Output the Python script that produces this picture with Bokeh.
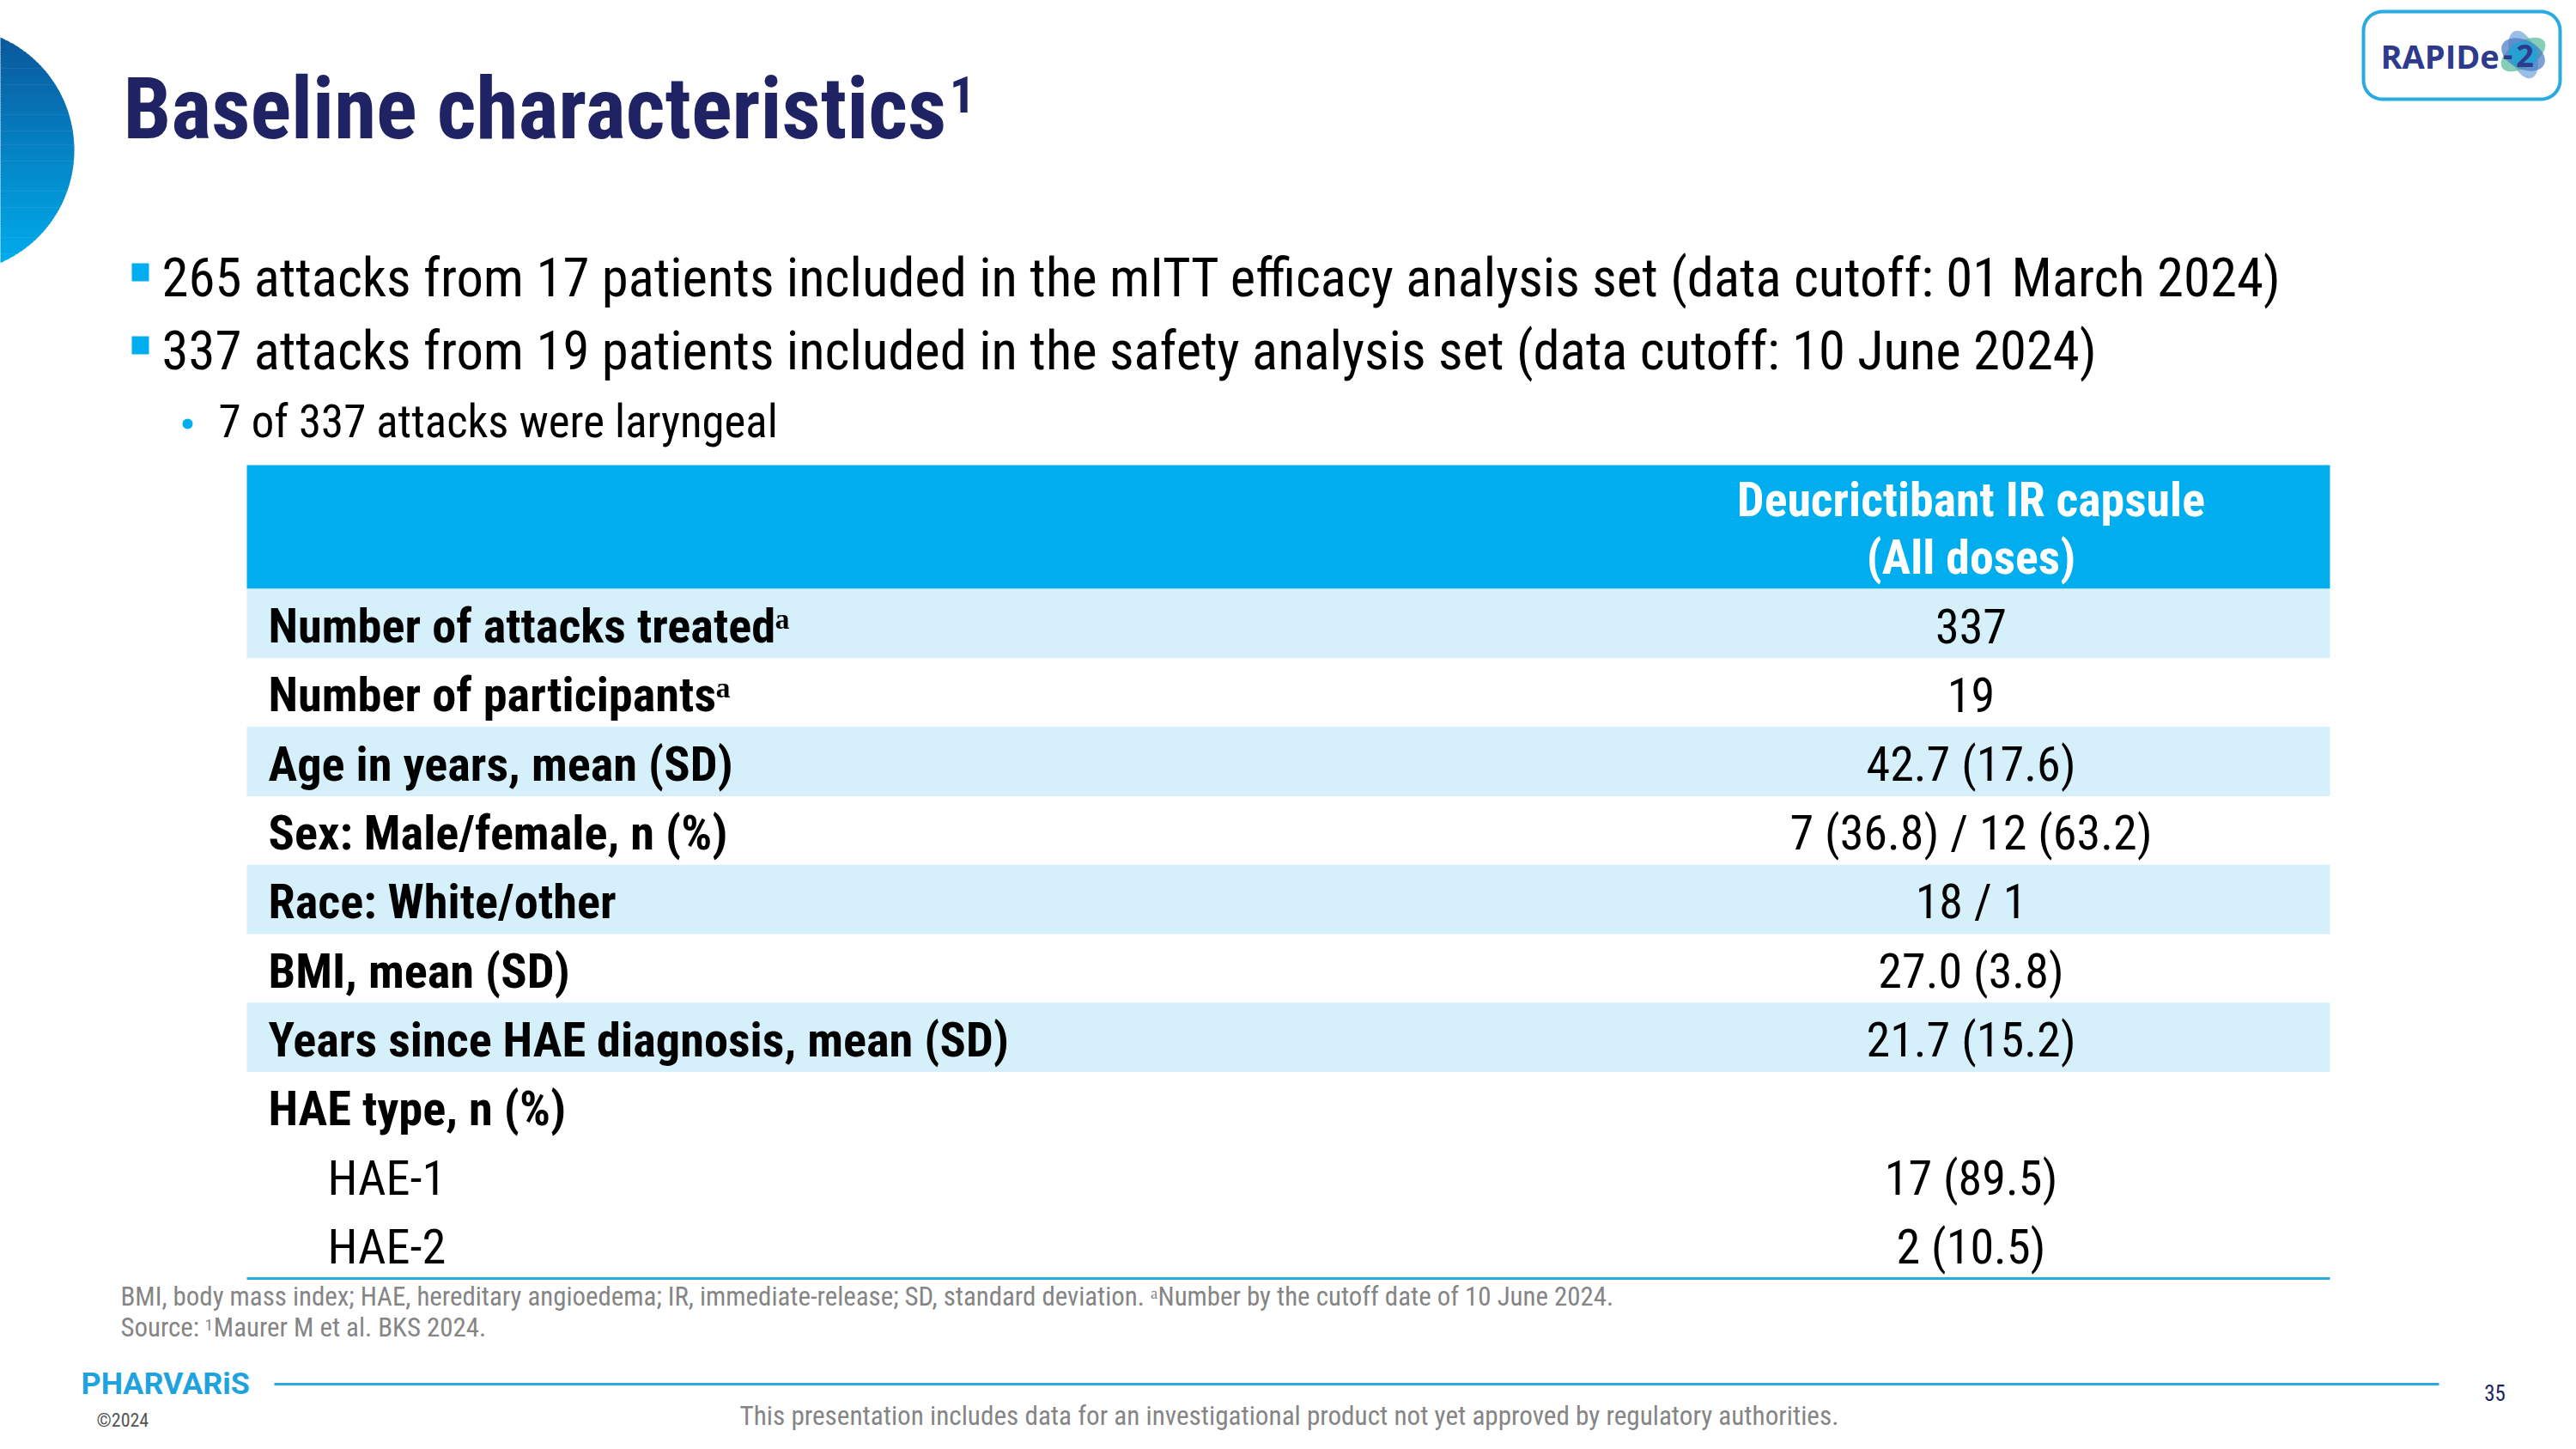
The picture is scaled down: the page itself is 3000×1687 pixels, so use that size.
import subprocess
from bokeh.plotting import figure
from bokeh.models import Range1d
from bokeh.core.properties import value
from bokeh.embed import file_html
from bokeh.resources import INLINE
import numpy as np

# ---------------- content ----------------
title_text = "Baseline characteristics"
title_ref = "1"
bullets = [
    "265 attacks from 17 patients included in the mITT efficacy analysis set (data cutoff: 01 March 2024)",
    "337 attacks from 19 patients included in the safety analysis set (data cutoff: 10 June 2024)",
]
sub_bullets = ["7 of 337 attacks were laryngeal"]
column_header = ["Deucrictibant IR capsule", "(All doses)"]
row_labels = [
    "Number of attacks treatedᵃ",
    "Number of participantsᵃ",
    "Age in years, mean (SD)",
    "Sex: Male/female, n (%)",
    "Race: White/other",
    "BMI, mean (SD)",
    "Years since HAE diagnosis, mean (SD)",
    "HAE type, n (%)",
    "HAE-1",
    "HAE-2",
]
row_values = ["337", "19", "42.7 (17.6)", "7 (36.8) / 12 (63.2)", "18 / 1",
              "27.0 (3.8)", "21.7 (15.2)", "", "17 (89.5)", "2 (10.5)"]
row_level = [0, 0, 0, 0, 0, 0, 0, 0, 1, 1]
row_shaded = [True, False, True, False, True, False, True, False, False, False]
footnote_1 = "BMI, body mass index; HAE, hereditary angioedema; IR, immediate-release; SD, standard deviation. ᵃNumber by the cutoff date of 10 June 2024."
footnote_2 = ["Source: ", "1", "Maurer M et al. BKS 2024."]
disclaimer = "This presentation includes data for an investigational product not yet approved by regulatory authorities."
page_number = "35"
copyright_text = "©2024"
company = "PHARVARiS"
study_logo = ["RAPIDe", "-", "2"]

# ---------------- font selection / measuring ----------------
def _families():
    try:
        out = subprocess.run(["fc-list", ":", "family"], capture_output=True, text=True, timeout=20).stdout
    except Exception:
        return set()
    fams = set()
    for line in out.splitlines():
        for f in line.split(","):
            fams.add(f.strip())
    return fams

FAMS = _families()
FONT = next((c for c in ["Roboto Condensed", "Liberation Sans Narrow", "DejaVu Sans Condensed",
                         "Noto Sans Condensed", "Open Sans Condensed", "Roboto"] if c in FAMS), "Roboto")

_file_cache = {}
def _font_file(fam, bold):
    key = (fam, bold)
    if key not in _file_cache:
        try:
            q = fam + (":weight=bold" if bold else ":weight=regular")
            _file_cache[key] = subprocess.run(["fc-match", "-f", "%{file}", q], capture_output=True,
                                              text=True, timeout=20).stdout.strip()
        except Exception:
            _file_cache[key] = ""
    return _file_cache[key]

def text_w(s, fam, bold, size):
    try:
        from PIL import ImageFont
        f = ImageFont.truetype(_font_file(fam, bold), int(round(size * 4)))
        return f.getlength(s) / 4.0
    except Exception:
        return len(s) * 0.45 * size

def fit(s, fam, bold, max_size, target_w):
    w = text_w(s, fam, bold, max_size)
    if w <= 0:
        return max_size
    return round(max_size * min(1.0, target_w / w), 1)

def px(v):
    return f"{min(v, 99.5):.1f}px"

# ---------------- styles ----------------
NAVY = "#1F2263"
CYAN = "#00AEEF"
LIGHT = "#D6F0FB"
LINE = "#29ABE2"
GRAY = "#858585"

s_title = 99.5
s_bullet = fit(bullets[0], FONT, False, 63, 2466)
s_sub = fit(sub_bullets[0], FONT, False, 54, 651)
s_head = fit(column_header[0], FONT, True, 54, 544) * 1.036
s_lab = fit(row_labels[6], FONT, True, 53, 859) * 1.065
s_val = fit(row_values[3], FONT, False, 53, 419) * 1.058
s_fn = fit(footnote_1, FONT, False, 26, 1735) * 1.187
s_disc = fit(disclaimer, FONT, False, 27, 1277) * 1.154
s_comp = fit(company, "Roboto", True, 38, 191)

W, H = 2984, 1671
p = figure(width=W, height=H, x_range=Range1d(0, W), y_range=Range1d(H, 0),
           output_backend="svg", toolbar_location=None, min_border=0,
           x_axis_location=None, y_axis_location=None,
           outline_line_color=None, background_fill_color="white", border_fill_color="white")
p.grid.visible = False

# ---------------- decorative arc (left) ----------------
cx, cy, r = -57.0, 174.0, 143.0
n = 90
ys = np.linspace(cy - r, cy + r, n + 1)
c0 = np.array([0x0A, 0x55, 0x98])
c1 = np.array([0x00, 0xB0, 0xF0])
xs_list, ys_list, cols = [], [], []
for j in range(n):
    y0, y1 = float(ys[j]), float(ys[j + 1])
    xa = cx + np.sqrt(max(r * r - (y0 - cy) ** 2, 0))
    xb = cx + np.sqrt(max(r * r - (y1 - cy) ** 2, 0))
    xs_list.append([-100.0, float(xa), float(xb), -100.0])
    ys_list.append([y0, y0, y1 + 0.6, y1 + 0.6])
    t = j / (n - 1)
    c = (c0 * (1 - t) + c1 * t).astype(int)
    cols.append("#%02x%02x%02x" % tuple(c))
p.patches(xs_list, ys_list, fill_color=cols, line_color=None)

# ---------------- rounded logo box (polygon) ----------------
bl, br, bt, bb, rad = 2752.0, 2981.0, 13.0, 115.0, 22.0
pts_x, pts_y = [], []
for (ccx, ccy, a0) in [(br - rad, bt + rad, -90), (br - rad, bb - rad, 0),
                       (bl + rad, bb - rad, 90), (bl + rad, bt + rad, 180)]:
    for a in np.linspace(a0, a0 + 90, 10):
        pts_x.append(float(ccx + rad * np.cos(np.radians(a))))
        pts_y.append(float(ccy + rad * np.sin(np.radians(a))))
p.patch(pts_x, pts_y, fill_color="white", line_color=LINE, line_width=4)
p.ellipse(x=[2938, 2938, 2938, 2938], y=[63, 63, 63, 63], width=[30, 58, 54, 34],
          height=[58, 30, 34, 30], angle=[0.35, 0.55, -0.45, 0.0],
          fill_color=["#6FA3DA", "#52B99A", "#4678C4", "#1EA5D6"], fill_alpha=[0.7, 0.7, 0.7, 0.85],
          line_color=None)

# ---------------- bullets shapes ----------------
bul_mid = [323, 408]
p.quad(left=[153, 153], right=[173, 173], top=[m - 17 for m in bul_mid],
       bottom=[m + 4 for m in bul_mid], fill_color=CYAN, line_color=None)
p.scatter(x=[218], y=[493], size=12, marker="circle", fill_color=CYAN, line_color=None)

# ---------------- table shapes ----------------
t_left, t_right = 287, 2713
h_top, h_bot = 541, 685
row_h = 80.3
val_x = 2295
p.quad(left=[t_left], right=[t_right], top=[h_top], bottom=[h_bot], fill_color=CYAN, line_color=None)
n_rows = len(row_labels)
r_top = [h_bot + i * row_h for i in range(n_rows)]
r_bot = [h_bot + (i + 1) * row_h for i in range(n_rows)]
shade_idx = [i for i in range(n_rows) if row_shaded[i]]
p.quad(left=[t_left] * len(shade_idx), right=[t_right] * len(shade_idx),
       top=[r_top[i] for i in shade_idx], bottom=[r_bot[i] + 0.5 for i in shade_idx],
       fill_color=LIGHT, line_color=None)
p.segment(x0=[t_left], x1=[t_right], y0=[r_bot[-1]], y1=[r_bot[-1]], line_color=LINE, line_width=3)
p.segment(x0=[319], x1=[2840], y0=[1611], y1=[1611], line_color=LINE, line_width=3)

# ---------------- texts ----------------
F = value(FONT)
mid_y = [h_bot + (i + 0.5) * row_h + 3.5 for i in range(n_rows)]
p.text(x=[val_x] * n_rows, y=mid_y, text=row_values, text_font=F,
       text_font_size=px(s_val), text_color="#000000", text_align="center", text_baseline="middle")
p.text(x=[val_x, val_x], y=[581, 648], text=column_header, text_font=F,
       text_font_style="bold", text_font_size=px(s_head), text_color="white",
       text_align="center", text_baseline="middle")

lab_x = [312 + 69 * lv for lv in row_level]
bold_idx = [i for i in range(n_rows) if row_level[i] == 0]
norm_idx = [i for i in range(n_rows) if row_level[i] == 1]
p.text(x=[lab_x[i] for i in bold_idx], y=[mid_y[i] for i in bold_idx],
       text=[row_labels[i] for i in bold_idx], text_font=F, text_font_style="bold",
       text_font_size=px(s_lab), text_color="#000000", text_baseline="middle")
p.text(x=[lab_x[i] for i in norm_idx], y=[mid_y[i] for i in norm_idx],
       text=[row_labels[i] for i in norm_idx], text_font=F,
       text_font_size=px(s_lab), text_color="#000000", text_baseline="middle")
p.text(x=[188] * len(bullets), y=bul_mid, text=bullets, text_font=F,
       text_font_size=px(s_bullet), text_color="#000000", text_baseline="middle")
p.text(x=[254], y=[490], text=sub_bullets, text_font=F,
       text_font_size=px(s_sub), text_color="#000000", text_baseline="middle")

# footnotes
p.text(x=[140], y=[1509], text=[footnote_1], text_font=F,
       text_font_size=px(s_fn), text_color=GRAY, text_baseline="middle")
s_fsup = round(s_fn * 0.6, 1)
fx1 = 140 + text_w(footnote_2[0], FONT, False, s_fn) * 1.0
fx2 = fx1 + text_w(footnote_2[1], FONT, False, s_fsup) + 1
p.text(x=[140, fx2], y=[1545, 1545], text=[footnote_2[0], footnote_2[2]], text_font=F,
       text_font_size=px(s_fn), text_color=GRAY, text_baseline="middle")
p.text(x=[fx1], y=[1535 + 0.36 * s_fsup], text=[footnote_2[1]], text_font=F,
       text_font_size=px(s_fsup), text_color=GRAY, text_baseline="middle")

# footer
p.text(x=[94], y=[1610], text=[company], text_font=value("Roboto"), text_font_style="bold",
       text_font_size=px(s_comp), text_color="#1FA3DE", text_baseline="middle")
p.text(x=[112], y=[1653], text=[copyright_text], text_font=F,
       text_font_size="22px", text_color="#555555", text_baseline="middle")
p.text(x=[1501], y=[1648], text=[disclaimer], text_font=F,
       text_font_size=px(s_disc), text_color=GRAY, text_align="center", text_baseline="middle")
p.text(x=[2905], y=[1621], text=[page_number], text_font=F,
       text_font_size="25px", text_color=NAVY, text_align="center", text_baseline="middle")

# study logo text
p.text(x=[2772], y=[64], text=[study_logo[0]], text_font=value("Open Sans"), text_font_style="bold",
       text_font_size="38px", text_color="#2E3A8C", text_baseline="middle")
p.text(x=[2920, 2940], y=[62, 64], text=study_logo[1:], text_font=value("Open Sans"),
       text_font_style="bold", text_font_size="36px", text_color="#2E3A8C",
       text_align="center", text_baseline="middle")

# title with separate superscript reference (drawn last)
s_tsup = round(s_title * 0.6, 1)
tx = 143 + text_w(title_text, FONT, True, s_title) * 1.015 + 9
p.text(x=[tx], y=[88 + 0.36 * s_tsup], text=[title_ref], text_font=F, text_font_style="bold",
       text_font_size=px(s_tsup), text_color=NAVY, text_baseline="middle")
p.text(x=[143], y=[126], text=[title_text], text_font=F, text_font_style="bold",
       text_font_size=px(s_title), text_color=NAVY, text_baseline="middle")

open("out.html", "w").write(file_html(p, INLINE))
